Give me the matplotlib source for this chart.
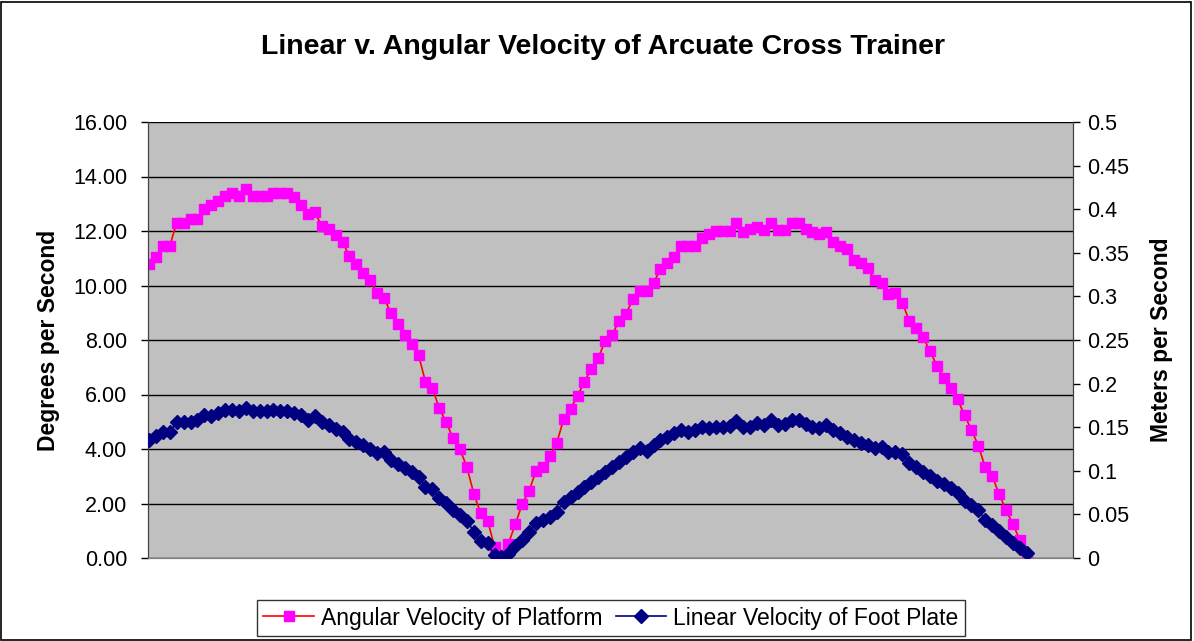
import numpy as np
import matplotlib.pyplot as plt
from matplotlib.patches import Rectangle

# --- data (one value per sample) ---
angular_velocity = [
    10.8, 11.05, 11.45, 11.45, 12.3, 12.3, 12.45, 12.45, 12.8, 12.95,
    13.1, 13.3, 13.4, 13.3, 13.55, 13.3, 13.3, 13.3, 13.4, 13.4,
    13.4, 13.25, 12.95, 12.61, 12.68, 12.18, 12.06, 11.85, 11.58, 11.08,
    10.79, 10.47, 10.2, 9.71, 9.55, 8.98, 8.58, 8.18, 7.85, 7.45,
    6.47, 6.23, 5.49, 4.98, 4.39, 3.99, 3.33, 2.35, 1.64, 1.37,
    0.41, 0.1, 0.52, 1.24, 1.97, 2.47, 3.2, 3.33, 3.74, 4.23,
    5.09, 5.48, 5.94, 6.47, 6.94, 7.33, 7.97, 8.18, 8.7, 8.95,
    9.49, 9.81, 9.81, 10.08, 10.61, 10.81, 11.06, 11.45, 11.45, 11.45,
    11.73, 11.88, 12.0, 12.0, 12.0, 12.31, 11.97, 12.06, 12.16, 12.04,
    12.31, 12.04, 12.04, 12.31, 12.31, 12.06, 11.97, 11.88, 11.97, 11.58,
    11.46, 11.33, 10.94, 10.81, 10.63, 10.2, 10.08, 9.69, 9.71, 9.37,
    8.71, 8.45, 8.1, 7.6, 7.06, 6.61, 6.23, 5.82, 5.24, 4.71,
    4.12, 3.33, 3.01, 2.35, 1.76, 1.25, 0.66, 0.0,
]
linear_velocity = [
    0.135, 0.140, 0.145, 0.144, 0.156, 0.156, 0.156, 0.158, 0.164, 0.163,
    0.166, 0.170, 0.170, 0.169, 0.172, 0.169, 0.169, 0.169, 0.170, 0.169,
    0.169, 0.166, 0.164, 0.158, 0.163, 0.1556, 0.1525, 0.1476, 0.145, 0.137,
    0.1334, 0.1296, 0.125, 0.120, 0.122, 0.1124, 0.1074, 0.1036, 0.099, 0.0933,
    0.0818, 0.0788, 0.0685, 0.0627, 0.055, 0.0493, 0.0428, 0.0302, 0.0198, 0.0168,
    0.0034, 0.0015, 0.0046, 0.0141, 0.0206, 0.0302, 0.0398, 0.0436, 0.0474, 0.0531,
    0.0646, 0.0703, 0.076, 0.0818, 0.0875, 0.0933, 0.099, 0.1047, 0.1104, 0.1162,
    0.1219, 0.1258, 0.123, 0.1296, 0.1353, 0.1384, 0.143, 0.1468, 0.1449, 0.1468,
    0.1506, 0.1487, 0.1506, 0.1506, 0.151, 0.1575, 0.1506, 0.1506, 0.1552, 0.1525,
    0.1583, 0.1525, 0.1537, 0.1583, 0.1583, 0.1537, 0.1506, 0.1487, 0.1525, 0.1468,
    0.143, 0.1391, 0.1353, 0.1315, 0.1296, 0.1258, 0.1277, 0.1219, 0.1219, 0.1193,
    0.1093, 0.1047, 0.099, 0.094, 0.0887, 0.0849, 0.080, 0.0742, 0.0657, 0.0608,
    0.055, 0.0436, 0.0378, 0.031, 0.0237, 0.0176, 0.0118, 0.0061,
]
left_ticks = [0, 2, 4, 6, 8, 10, 12, 14, 16]
right_ticks = [0, 0.05, 0.1, 0.15, 0.2, 0.25, 0.3, 0.35, 0.4, 0.45, 0.5]
right_labels = ['0', '0.05', '0.1', '0.15', '0.2', '0.25', '0.3', '0.35', '0.4', '0.45', '0.5']

plt.rcParams['font.family'] = ['Liberation Sans', 'DejaVu Sans']

W, H = 1194, 641
fig = plt.figure(figsize=(W / 100, H / 100), dpi=100)
fig.patches.append(Rectangle((1 / W, 1 / H), 1 - 4 / W, 1 - 3 / H, transform=fig.transFigure,
                             fill=False, edgecolor='black', linewidth=1.2))

# plot area in pixels: x 148..1073, y 122..558
ax = fig.add_axes([148 / W, 1 - 558 / H, (1073 - 148) / W, (558 - 122) / H])
ax.set_facecolor('#C0C0C0')
x = np.arange(len(angular_velocity))

ax.plot(x, angular_velocity, color='red', linewidth=1.2, marker='s', markersize=7.3,
        markerfacecolor='#FF00FF', markeredgecolor='#FF00FF', label='Angular Velocity of Platform',
        zorder=3)
ax.set_ylim(0, 16)
ax.set_yticks(left_ticks)
ax.set_yticklabels([f'{t:.2f}' for t in left_ticks])
ax.set_xlim(-0.15, 133.7)
ax.set_xticks([])
ax.grid(axis='y', color='black', linewidth=1)
ax.set_axisbelow(True)
ax.set_ylabel('Degrees per Second', fontsize=16.5, fontweight='bold')
ax.yaxis.set_label_coords(-0.095, 0.5)
ax.tick_params(axis='y', labelsize=15.5, direction='out', length=5, width=1, pad=10)

ax2 = ax.twinx()
ax2.plot(x, linear_velocity, color='#000080', linewidth=1.2, marker='D', markersize=6.8,
         markerfacecolor='#000080', markeredgecolor='#000080', label='Linear Velocity of Foot Plate',
         zorder=3)
ax2.set_ylim(0, 0.5)
ax2.set_yticks(right_ticks)
ax2.set_yticklabels(right_labels)
ax2.set_ylabel('Meters per Second', fontsize=16.5, fontweight='bold')
ax2.yaxis.set_label_coords(1.083, 0.5)
ax2.tick_params(axis='y', labelsize=15.5, direction='out', length=5, width=1, pad=5)

for a in (ax, ax2):
    a.spines['top'].set_visible(False)
    a.spines['left'].set_color('#404040')
    a.spines['right'].set_color('#404040')
    a.spines['bottom'].set_color('#808080')

fig.text(603 / W, 1 - 47 / H, 'Linear v. Angular Velocity of Arcuate Cross Trainer',
         ha='center', va='center', fontsize=20.5, fontweight='bold')

h1, l1 = ax.get_legend_handles_labels()
h2, l2 = ax2.get_legend_handles_labels()
leg = fig.legend(h1 + h2, l1 + l2, loc='center', bbox_to_anchor=(611 / W, 1 - 618 / H),
                 ncol=2, fontsize=16.5, frameon=True, fancybox=False, edgecolor='black',
                 handlelength=2.2, handletextpad=0.3, columnspacing=0.6, borderpad=0.3)
leg.get_frame().set_linewidth(1)

fig.savefig('out.png', dpi=100)
